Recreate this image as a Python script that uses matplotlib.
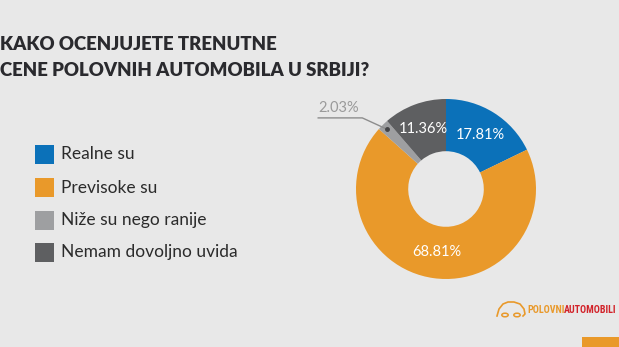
import numpy as np
import matplotlib
matplotlib.use("Agg")
import matplotlib.pyplot as plt
from matplotlib.patches import Rectangle, Circle
from matplotlib.lines import Line2D

# ---- data ----
categories = ["Realne su", "Previsoke su", "Niže su nego ranije", "Nemam dovoljno uvida"]
shares = [17.81, 68.81, 2.03, 11.36]
pct_labels = ["17.81%", "68.81%", "2.03%", "11.36%"]
colors = ["#0b71b9", "#e9992a", "#9e9fa1", "#5e5f61"]
title_lines = ["KAKO OCENJUJETE TRENUTNE", "CENE POLOVNIH AUTOMOBILA U SRBIJI?"]

W, H = 619, 347
BG = "#e8e8e8"
fig = plt.figure(figsize=(W / 100, H / 100), dpi=100, facecolor=BG)


def fx(x):
    return x / W


def fy(y):
    return 1 - y / H


# ---- title ----
fig.text(fx(0), fy(45), title_lines[0], fontsize=13.4, fontweight="heavy",
         family=["Lato", "DejaVu Sans"], color="#2a2a2e", va="center", ha="left")
fig.text(fx(0), fy(71), title_lines[1], fontsize=13.4, fontweight="heavy",
         family=["Lato", "DejaVu Sans"], color="#2a2a2e", va="center", ha="left")

# ---- legend ----
row_y = [154.5, 187.5, 220.5, 252.5]
for cat, col, yy in zip(categories, colors, row_y):
    fig.patches.append(Rectangle((fx(35), fy(yy + 9.5)), 19 / W, 19 / H,
                                 transform=fig.transFigure, facecolor=col,
                                 edgecolor="none"))
    fig.text(fx(61), fy(yy), cat, fontsize=12.5, family=["Lato", "DejaVu Sans"],
             color="#2b2b2b", va="center", ha="left")

# ---- donut ----
cx, cy, R = 446, 189, 90
ax = fig.add_axes([fx(cx - R), fy(cy + R), 2 * R / W, 2 * R / H])
ax.set_facecolor("none")
wedges, _ = ax.pie(shares, colors=colors, startangle=90, counterclock=False,
                   radius=1.0, wedgeprops=dict(width=0.58, edgecolor="none"))
ax.set_xlim(-1, 1)
ax.set_ylim(-1, 1)
ax.set_aspect("equal")
ax.axis("off")

total = sum(shares)
cum = np.cumsum([0] + shares[:-1])
mid_angles = [np.deg2rad(90 - (c + s / 2) / total * 360) for c, s in zip(cum, shares)]

for i, (lab, ang) in enumerate(zip(pct_labels, mid_angles)):
    if shares[i] < 5:
        continue
    r = 0.71
    ax.text(r * np.cos(ang), r * np.sin(ang), lab, color="white", fontsize=10.5,
            family=["Lato", "DejaVu Sans"], ha="center", va="center")

# leader line for the small slice
small = 2
ang = mid_angles[small]
px, py = 0.93 * np.cos(ang), 0.93 * np.sin(ang)
ex, ey = -0.93, 0.79
tx = -1.42
ax.add_line(Line2D([px, ex, tx], [py, ey, ey], color="#8d8d8d", lw=1.0,
                   clip_on=False))
ax.plot([px], [py], marker="o", ms=2.5, color="#444446", clip_on=False)
ax.text(tx, ey + 0.03, pct_labels[small], color="#9a9a9a", fontsize=10.5,
        family=["Lato", "DejaVu Sans"], ha="left", va="bottom")

# ---- logo ----
logo_orange = "#e9992a"
logo_font = ["Roboto Condensed", "Open Sans Condensed", "Liberation Sans Narrow",
             "Roboto"]
car_x = [497, 499, 503, 508, 514, 520, 524, 525, 523]
car_y = [316, 309, 304, 302, 302, 304, 309, 314, 316]
fig.add_artist(Line2D([fx(v) for v in car_x], [fy(v) for v in car_y],
                      transform=fig.transFigure, color=logo_orange, lw=1.2))
for wx in (505, 517):
    fig.add_artist(Circle((fx(wx), fy(315)), 3.2 / W, transform=fig.transFigure,
                          facecolor="none", edgecolor=logo_orange, lw=1.1))
t1 = fig.text(fx(527), fy(310), "POLOVNI", fontsize=7.2, fontweight="bold",
              fontstretch="condensed", family=logo_font, color=logo_orange,
              va="center", ha="left")
fig.canvas.draw()
bb = t1.get_window_extent()
fig.text(bb.x1 / W, fy(310), "AUTOMOBILI", fontsize=7.2, fontweight="bold",
         fontstretch="condensed", family=logo_font, color="#d2232a",
         va="center", ha="left")

# ---- corner accent ----
fig.patches.append(Rectangle((fx(582), 0), 40 / W, 10 / H, transform=fig.transFigure,
                             facecolor=logo_orange, edgecolor="none"))

fig.savefig("out.png", dpi=100, facecolor=BG)
